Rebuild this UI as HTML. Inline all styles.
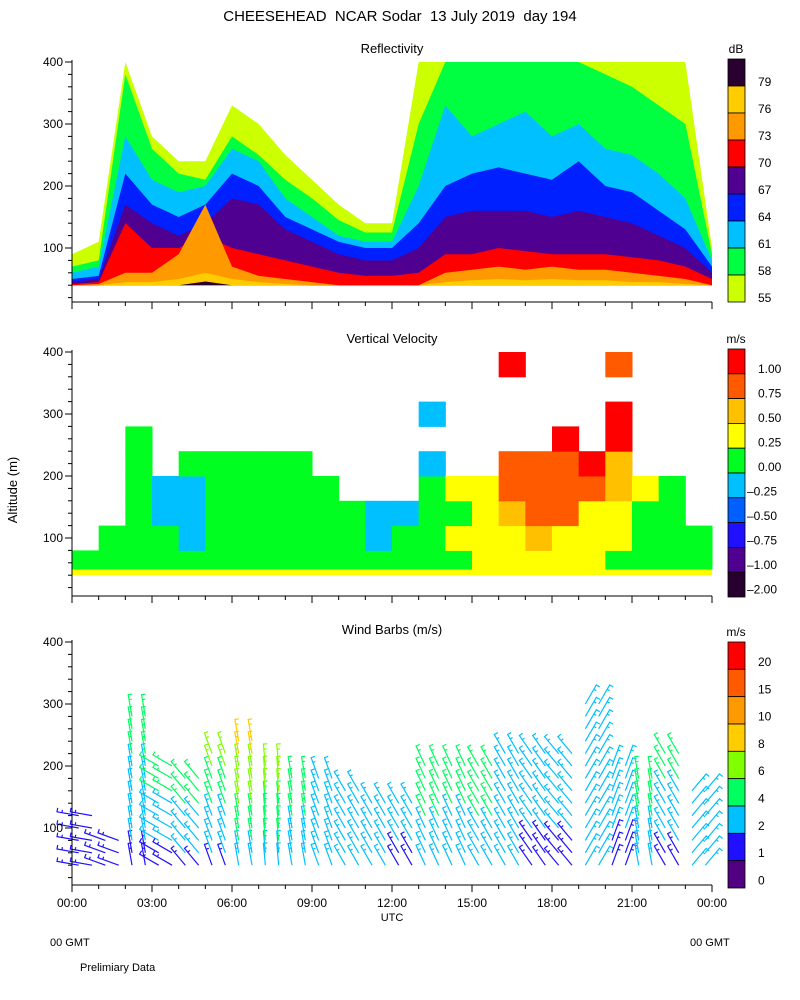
<!DOCTYPE html>
<html><head><meta charset="utf-8">
<style>
body{margin:0;background:#fff;}
svg{display:block;font-family:"Liberation Sans",sans-serif;}
text{fill:#000;font-size:12px;white-space:pre;}
</style></head>
<body>
<svg id="chart" width="800" height="1000" viewBox="0 0 800 1000" xmlns="http://www.w3.org/2000/svg">
<rect width="800" height="1000" fill="#fff"/>
<text x="400" y="21" text-anchor="middle" style="font-size:15px">CHEESEHEAD  NCAR Sodar  13 July 2019  day 194</text>
<text x="392" y="53" text-anchor="middle" style="font-size:13px">Reflectivity</text>
<text x="392" y="343" text-anchor="middle" style="font-size:13px">Vertical Velocity</text>
<text x="392" y="634" text-anchor="middle" style="font-size:13px">Wind Barbs (m/s)</text>
<text x="0" y="0" transform="translate(17,490) rotate(-90)" text-anchor="middle" style="font-size:13px">Altitude (m)</text>
<text x="392" y="921" text-anchor="middle" style="font-size:11px">UTC</text>
<text x="50" y="946" style="font-size:11px">00 GMT</text>
<text x="690" y="946" style="font-size:11px">00 GMT</text>
<text x="80" y="971" style="font-size:11px">Prelimiary Data</text>
<g id="g1"></g>
<g id="g2"></g>
<g id="g3"></g>
</svg>
<script>
// ---- data ----
const hours = [0,1,2,3,4,5,6,7,8,9,10,11,12,13,14,15,16,17,18,19,20,21,22,23,24];
const reflLevels = [55,58,61,64,67,70,73,76,79];
const reflColors = ["#ccff00","#00ff40","#00c0ff","#0020ff","#500090","#ff0000","#ff9900","#ffcc00","#2a0030"];
// top (m) of region exceeding each level, per hour
const refl55 = [90,110,400,280,240,240,330,300,250,210,170,140,140,400,400,400,400,400,400,400,400,400,400,400,100];
const refl58 = [70,80,380,260,220,210,280,250,210,180,145,125,125,300,400,400,400,400,400,400,380,360,330,300,90];
const refl61 = [60,70,280,210,190,200,260,240,180,150,120,110,110,200,330,280,300,320,280,300,260,250,220,180,80];
const refl64 = [50,55,220,170,150,170,220,200,150,130,110,100,100,140,200,220,230,220,210,240,200,190,160,130,70];
const refl67 = [45,50,170,140,120,140,180,170,130,110,90,80,80,100,150,160,160,160,150,160,150,140,120,100,60];
const refl70 = [42,45,140,100,100,120,100,90,80,70,60,55,55,60,90,90,100,95,90,90,90,85,80,70,50];
const refl73 = [40,42,60,60,90,170,70,55,50,45,40,40,40,40,60,65,70,65,70,65,65,60,55,50,40];
const refl76 = [40,40,45,45,50,60,50,45,42,40,40,40,40,40,45,48,50,48,50,48,48,45,45,42,40];
const refl79 = [40,40,40,40,40,46,40,40,40,40,40,40,40,40,40,40,40,40,40,40,40,40,40,40,40];
const vvLabels = ["1.00","0.75","0.50","0.25","0.00","-0.25","-0.50","-0.75","-1.00","-2.00"];
const vvColors = ["#ff0000","#ff5a00","#ffc000","#ffff00","#00ff20","#00c0ff","#0060ff","#2010ff","#500090","#280030"];
const vvBounds = [1.0,0.75,0.5,0.25,0,-0.25,-0.5,-0.75,-1.0,-2.0];
// velocity grid: per hour, rows of 40 m from 40 m
const vvGrid = [
 [0.1],[0.1,0.1],[0.1,0.1,0.1,0.1,0.1,0.1],[0.1,0.1,-0.1,-0.1],[0.1,-0.1,-0.1,-0.1,0.1],
 [0.1,0.1,0.1,0.1,0.1],[0.1,0.1,0.1,0.1,0.1],[0.1,0.1,0.1,0.1,0.1],[0.1,0.1,0.1,0.1,0.1],
 [0.1,0.1,0.1,0.1],[0.1,0.1,0.1],[0.1,-0.1,-0.1],[0.1,0.1,-0.1],
 [0.1,0.1,0.1,0.1,-0.1,null,-0.1],[0.1,0.3,0.1,0.3],[0.3,0.3,0.3,0.3],
 [0.3,0.3,0.6,0.8,0.8,null,null,null,1.1],[0.3,0.6,0.8,0.8,0.8],[0.3,0.3,0.8,0.8,0.8,1.1],
 [0.3,0.3,0.3,0.8,1.1],[0.1,0.3,0.3,0.6,0.6,1.1,1.1,null,0.8],[0.1,0.1,0.1,0.3],[0.1,0.1,0.1,0.1],[0.1,0.1]
];
const windLabels = ["20","15","10","8","6","4","2","1","0"];
const windColors = ["#ff0000","#ff5a00","#ff9900","#ffcc00","#80ff00","#00ff60","#00c0ff","#2010ff","#500080"];
const windBounds = [20,15,10,8,6,4,2,1,0];
const windTop = [120,80,280,200,180,220,240,200,180,180,160,140,140,200,210,200,220,220,220,300,200,180,230,160];
const windSpdLow = [1.5,1.5,1.5,1.5,1.5,1.5,3,3,3,3,3,3,1.5,3,3,3,3,1.5,1.5,3,1.5,3,1.5,3];
const windSpdHigh = [1.5,1.5,5,5,5,7,9,7,5,3,3,3,3,5,5,5,3,3,3,3,3,5,5,3];
const windDir = [80,70,10,60,40,20,10,5,10,20,30,30,30,25,25,30,30,35,40,-30,-20,10,30,-40];

// ---- helpers ----
const NS="http://www.w3.org/2000/svg";
function mk(parent,tag,attrs){const e=document.createElementNS(NS,tag);for(const k in attrs)e.setAttribute(k,attrs[k]);parent.appendChild(e);return e;}
const X0=72,X1=712;
function xs(t){return X0+t*(X1-X0)/24;}
const panels=[{g:"g1",zero:310,top:60,bot:302},{g:"g2",zero:600,top:350,bot:596},{g:"g3",zero:890,top:640,bot:885}];
function ys(p,h){return p.zero-h*0.62;}

function axes(p,showLabels){
  const g=document.getElementById(p.g);
  const ax=mk(g,"path",{d:`M${X0},${p.top} V${p.bot} H${X1}`,stroke:"#000",fill:"none","stroke-width":1});
  
  
  for(let h=20;h<=400;h+=20){const y=ys(p,h);if(y>p.bot)continue;const L=h%100===0?7:4;
    mk(g,"line",{x1:X0-L,x2:X0,y1:y,y2:y,stroke:"#000"});
    if(h%100===0){const t=mk(g,"text",{x:X0-9,y:y+4,"text-anchor":"end","font-size":"11"});t.textContent=h;
      
      }}
  for(let t=0;t<=24;t++){const x=xs(t);const L=t%3===0?7:4;mk(g,"line",{x1:x,x2:x,y1:p.bot,y2:p.bot+L,stroke:"#000"});
    if(showLabels&&t%3===0){const tx=mk(g,"text",{x:x,y:p.bot+22,"text-anchor":"middle","font-size":"11"});
      tx.textContent=String(t%24===0&&t>0?0:t).padStart(2,"0")+":00";
      
      }}
}
function colorbar(p,top,bot,colors,labels,unit,labelY){
  const g=document.getElementById(p.g);
  const n=colors.length,h=(bot-top)/n;
  colors.forEach((c,i)=>{const r=mk(g,"rect",{x:728,y:top+i*h,width:17,height:h,fill:c,stroke:"#000","stroke-width":0.8});
    
    });
  labels.forEach((l,i)=>{const t=mk(g,"text",{x:l.startsWith("-")?747:758,y:labelY(i,h)+4,"font-size":"12"});t.textContent=l.startsWith("-")?"–"+l.slice(1):l;
    
    });
  const u=mk(g,"text",{x:736,y:top-6,"text-anchor":"middle","font-size":"13"});u.textContent=unit;
  
  
}

// ---- panel 1: reflectivity ----
(function(){
  const p=panels[0],g=document.getElementById(p.g);
  const series=[refl55,refl58,refl61,refl64,refl67,refl70,refl73,refl76,refl79];
  series.forEach((arr,k)=>{
    let d=`M${xs(hours[0])},${ys(p,40)}`;
    hours.forEach((t,i)=>{d+=` L${xs(t)},${ys(p,Math.min(arr[i],400))}`;});
    d+=` L${xs(24)},${ys(p,40)} Z`;
    const e=mk(g,"path",{d:d,fill:reflColors[k]});
    
    
  });
  axes(p,false);
  colorbar(p,59,302,reflColors.slice().reverse(),reflLevels.map(String).reverse(),"dB",(i,h)=>59+i*h+h*0.85);
})();

// ---- panel 2: vertical velocity ----
function vvColor(v){for(let i=0;i<vvBounds.length;i++)if(v>=vvBounds[i])return vvColors[i];return vvColors[vvColors.length-1];}
(function(){
  const p=panels[1],g=document.getElementById(p.g);
  mk(g,"rect",{x:X0,y:ys(p,50),width:X1-X0,height:ys(p,40)-ys(p,50),fill:"#ffff00"});
  vvGrid.forEach((col,c)=>{col.forEach((v,r)=>{if(v===null)return;
    const y1=ys(p,40+40*(r+1)),y0=ys(p,(r===0?50:40+40*r));
    const e=mk(g,"rect",{x:xs(c),y:y1,width:xs(c+1)-xs(c)+0.5,height:y0-y1+0.5,fill:vvColor(v)});
    
    });});
  axes(p,false);
  colorbar(p,349,597,vvColors,vvLabels,"m/s",(i,h)=>369+i*24.5);
})();

// ---- panel 3: wind barbs ----
function windColor(s){for(let i=0;i<windBounds.length;i++)if(s>=windBounds[i])return windColors[i];return windColors[windColors.length-1];}
(function(){
  const p=panels[2],g=document.getElementById(p.g);
  windTop.forEach((top,hIdx)=>{
    for(let k=0;k<2;k++){
      const t=hIdx+0.25+k*0.5;const x=xs(t);
      for(let h=40;h<=top;h+=20){
        const f=(h-40)/Math.max(top-40,1);
        const s=windSpdLow[hIdx]+(windSpdHigh[hIdx]-windSpdLow[hIdx])*f;
        const a=windDir[hIdx]*Math.PI/180;
        const y=ys(p,h),L=22;
        const x2=x-Math.sin(a)*L,y2=y-Math.cos(a)*L;
        const px=Math.cos(a)*4,py=-Math.sin(a)*4;
        const c=windColor(s);
        const e=mk(g,"path",{d:`M${x},${y} L${x2},${y2} L${x2+px},${y2+py} M${x-Math.sin(a)*17},${y-Math.cos(a)*17} l${px*0.7},${py*0.7}`,stroke:c,fill:"none","stroke-width":1.2});
        
        
      }
    }
  });
  axes(p,true);
  colorbar(p,642,888,windColors,windLabels,"m/s",(i,h)=>662+i*27.3);
})();
</script>
</body></html>
